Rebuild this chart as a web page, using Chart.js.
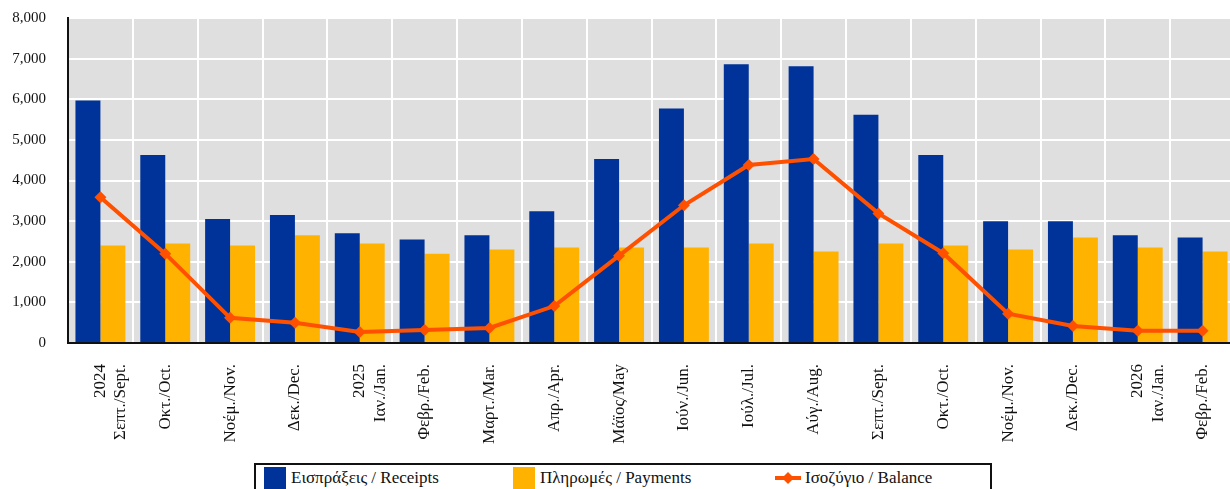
<!DOCTYPE html>
<html>
<head>
<meta charset="utf-8">
<script src="https://cdn.jsdelivr.net/npm/chart.js@4.4.1/dist/chart.umd.min.js"></script>
<style>
  html, body { margin: 0; padding: 0; background: #fff; overflow: hidden; }
  #wrap { position: absolute; left: 0; top: -13px; width: 1241px; height: 473px; }
  #legend { position: absolute; left: 254px; top: 463px; width: 734px; height: 40px; border: 2px solid #111; }
  .lg-item { position: absolute; top: 2px; height: 22px; display: flex; align-items: center;
             font-family: "Liberation Serif", "Times New Roman", "DejaVu Serif", serif; font-size: 17px; color: #111; white-space: nowrap; }
  .lg-box { width: 22px; height: 22px; margin-right: 5px; }
</style>
</head>
<body>
<div id="wrap"><canvas id="chart"></canvas></div>
<div id="legend"></div>
<script>
// month labels (year shown on first line where it changes)
const months = [
  ['2024', 'Σεπτ./Sept.'], 'Οκτ./Oct.', 'Νοέμ./Nov.', 'Δεκ./Dec.',
  ['2025', 'Ιαν./Jan.'], 'Φεβρ./Feb.', 'Μαρτ./Mar.', 'Απρ./Apr.', 'Μάϊος/May',
  'Ιούν./Jun.', 'Ιούλ./Jul.', 'Αύγ./Aug.', 'Σεπτ./Sept.', 'Οκτ./Oct.', 'Νοέμ./Nov.',
  'Δεκ./Dec.', ['2026', 'Ιαν./Jan.'], 'Φεβρ./Feb.'
];

const receipts = [5970, 4630, 3050, 3150, 2700, 2550, 2650, 3245, 4530, 5770, 6860, 6810, 5620, 4630, 3000, 3000, 2650, 2600];
const payments = [2400, 2450, 2400, 2650, 2450, 2200, 2300, 2350, 2350, 2350, 2450, 2250, 2450, 2400, 2300, 2600, 2350, 2250];
const balance  = [3590, 2200, 620, 500, 270, 320, 370, 910, 2150, 3390, 4380, 4530, 3190, 2210, 720, 420, 300, 300];

const seriesNames = ['Εισπράξεις / Receipts', 'Πληρωμές / Payments', 'Ισοζύγιο / Balance'];
const yTicks = [0, 1000, 2000, 3000, 4000, 5000, 6000, 7000, 8000];

const BLUE = '#003399';
const YELLOW = '#FFB300';
const ORANGE = '#FF5000';
const FONT = '"Liberation Serif", "Times New Roman", "DejaVu Serif", serif';

// gray plot background
const plotBg = {
  id: 'plotBg',
  beforeDraw(chart) {
    const a = chart.chartArea;
    const ctx = chart.ctx;
    ctx.save();
    ctx.fillStyle = '#dfdfdf';
    ctx.fillRect(a.left, a.top, a.right - a.left, a.bottom - a.top);
    ctx.restore();
  }
};

// canvas is shifted up 13px, so the axis line at 343 on the page is 356 in the canvas
const canvasH = 473;
const axisY = 356;

const config = {
  type: 'bar',
  data: {
    labels: months,
    datasets: [
      {
        type: 'line',
        label: seriesNames[2],
        data: balance,
        borderColor: ORANGE,
        backgroundColor: ORANGE,
        borderWidth: 4,
        tension: 0,
        pointStyle: 'rectRot',
        pointRadius: 6,
        pointBorderWidth: 0,
        order: 0
      },
      {
        label: seriesNames[0],
        data: receipts,
        backgroundColor: BLUE,
        categoryPercentage: 0.77,
        barPercentage: 1.0,
        order: 1
      },
      {
        label: seriesNames[1],
        data: payments,
        backgroundColor: YELLOW,
        categoryPercentage: 0.77,
        barPercentage: 1.0,
        order: 1
      }
    ]
  },
  options: {
    animation: false,
    responsive: true,
    maintainAspectRatio: false,
    layout: { padding: { top: 5, left: 0, right: 0, bottom: 0 } },
    plugins: {
      legend: { display: false },
      title: { display: false },
      tooltip: { enabled: false }
    },
    scales: {
      x: {
        grid: { color: '#ffffff', lineWidth: 2, drawTicks: false, offset: true },
        border: { color: '#111', width: 2 },
        ticks: {
          color: '#111',
          font: { family: FONT, size: 17 },
          minRotation: 90,
          maxRotation: 90,
          autoSkip: false,
          padding: 21
        },
        afterFit(scale) {
          scale.height = canvasH - axisY;
          scale.paddingLeft = 0;
          scale.paddingRight = 0;
        }
      },
      y: {
        min: 0,
        max: 8000,
        afterBuildTicks(scale) { scale.ticks = yTicks.map(v => ({ value: v })); },
        grid: { color: '#ffffff', lineWidth: 2, drawTicks: false },
        border: { color: '#111', width: 2 },
        ticks: {
          color: '#111',
          font: { family: FONT, size: 15 },
          padding: 22,
          callback: v => v.toLocaleString('en-US')
        },
        afterFit(scale) { scale.width = 68; }
      }
    }
  },
  plugins: [plotBg]
};

new Chart(document.getElementById('chart').getContext('2d'), config);

// legend below the chart, framed like the original
(function () {
  const lg = document.getElementById('legend');
  const items = [
    { left: 8, color: BLUE, name: seriesNames[0], kind: 'box' },
    { left: 257, color: YELLOW, name: seriesNames[1], kind: 'box' },
    { left: 519, color: ORANGE, name: seriesNames[2], kind: 'line' }
  ];
  items.forEach(function (it) {
    const d = document.createElement('div');
    d.className = 'lg-item';
    d.style.left = it.left + 'px';
    let mark;
    if (it.kind === 'box') {
      mark = '<span class="lg-box" style="background:' + it.color + '"></span>';
    } else {
      mark = '<svg width="26" height="22" style="margin-right:4px">' +
        '<line x1="0" y1="11" x2="26" y2="11" stroke="' + it.color + '" stroke-width="4"/>' +
        '<polygon points="13,5 19,11 13,17 7,11" fill="' + it.color + '"/></svg>';
    }
    d.innerHTML = mark + '<span>' + it.name + '</span>';
    lg.appendChild(d);
  });
})();
</script>
</body>
</html>
